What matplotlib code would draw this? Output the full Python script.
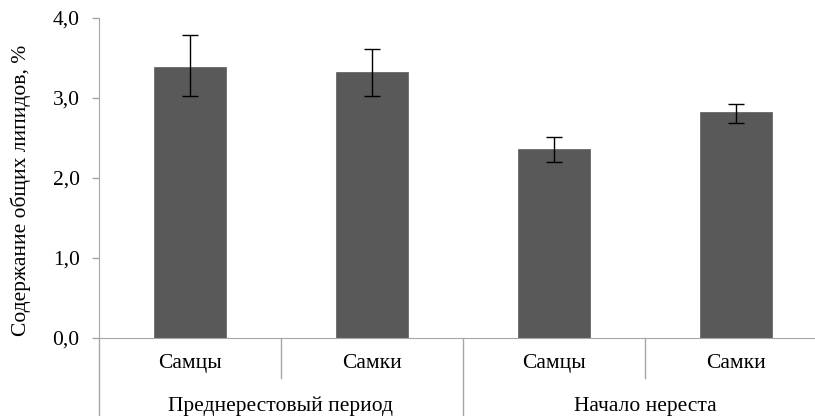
import matplotlib.pyplot as plt
import numpy as np

# Data
groups = ['Преднерестовый период', 'Начало нереста']
sexes = ['Самцы', 'Самки', 'Самцы', 'Самки']
lipids = [3.39, 3.32, 2.36, 2.82]
err_low = [0.36, 0.29, 0.16, 0.13]
err_high = [0.40, 0.29, 0.15, 0.11]
yticks = [0.0, 1.0, 2.0, 3.0, 4.0]

plt.rcParams['font.family'] = ['Liberation Serif', 'DejaVu Serif']
fs = 15.5

W, H = 815, 416
fig = plt.figure(figsize=(W / 100, H / 100), dpi=100)
# axes box in pixels: left 99, right 827 (cropped past figure), top 18, bottom 338
ax = fig.add_axes([99 / W, (H - 338) / H, (827 - 99) / W, 320 / H])

x = np.arange(len(lipids))
ax.bar(x, lipids, width=0.4, color='#595959', edgecolor='#6a6a6a', linewidth=0.6,
       yerr=[err_low, err_high], capsize=5.5,
       error_kw=dict(ecolor='black', elinewidth=1.0, capthick=1.0))

ax.set_xlim(-0.5, 3.5)
ax.set_ylim(0, 4)
ax.set_yticks(yticks)
ax.set_yticklabels([f'{v:.1f}'.replace('.', ',') for v in yticks], fontsize=fs)
ax.set_ylabel('Содержание общих липидов, %', fontsize=fs)
ax.yaxis.set_label_coords(-0.094, 0.46)

grey = '#a6a6a6'
for side in ['top', 'right']:
    ax.spines[side].set_visible(False)
ax.spines['left'].set_color(grey)
ax.spines['bottom'].set_color(grey)
ax.tick_params(axis='y', colors=grey, length=5, width=1, labelcolor='black', pad=9)
ax.tick_params(axis='x', bottom=False, labelbottom=False)

# two-level category axis
tr = ax.get_xaxis_transform()
short_y, long_y = -0.125, -0.25
for xd in [-0.5, 1.5, 3.5]:
    ax.plot([xd, xd], [0, long_y], color=grey, lw=1, transform=tr, clip_on=False)
for xd in [0.5, 2.5]:
    ax.plot([xd, xd], [0, short_y], color=grey, lw=1, transform=tr, clip_on=False)

for xi, s in zip(x, sexes):
    ax.text(xi, -0.081, s, transform=tr, ha='center', va='center', fontsize=fs)
for xi, g in zip([0.5, 2.5], groups):
    ax.text(xi, -0.214, g, transform=tr, ha='center', va='center', fontsize=fs)

fig.savefig('out.png', dpi=100, facecolor='white')
